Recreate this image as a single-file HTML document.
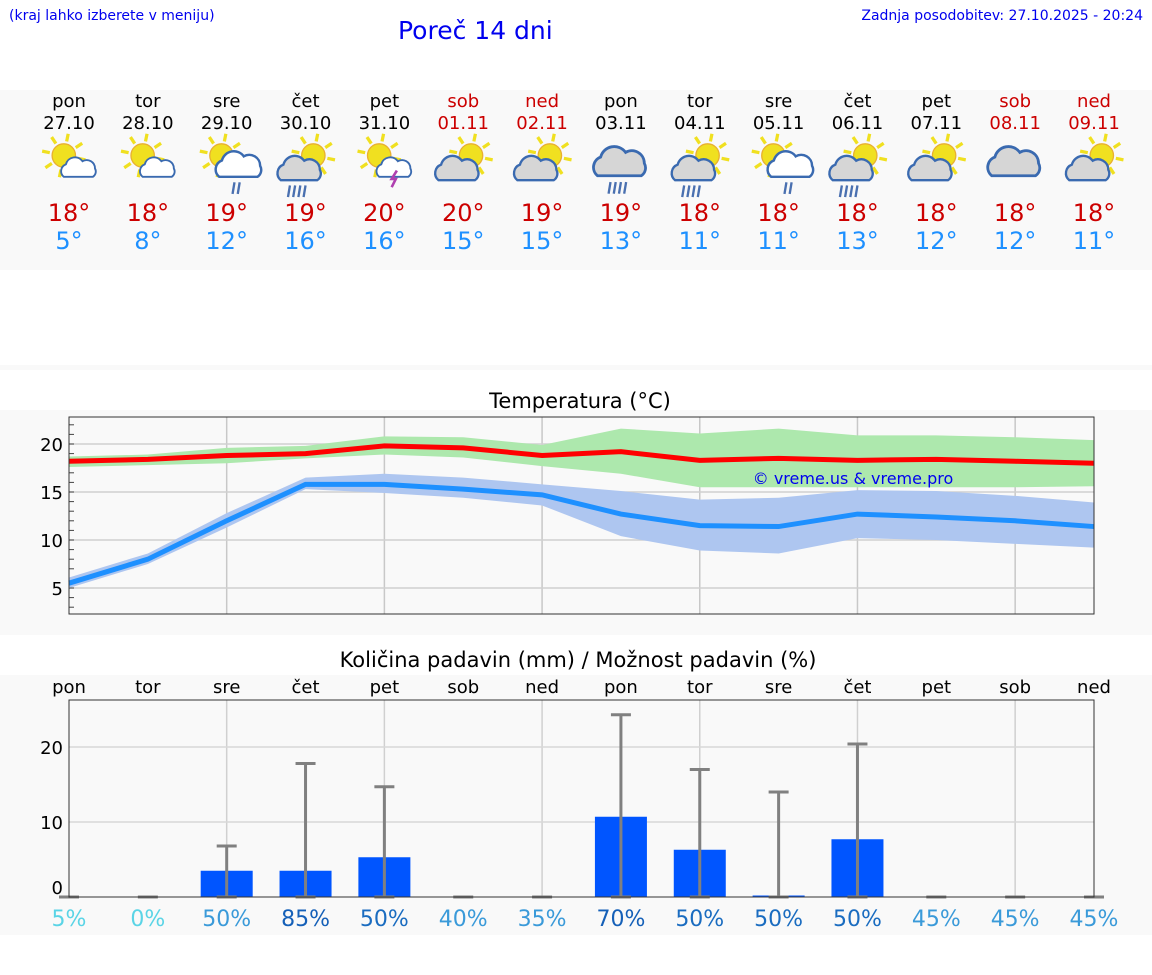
<!DOCTYPE html>
<html><head><meta charset="utf-8"><style>
body{margin:0;width:1152px;height:975px;background:#fff;font-family:"DejaVu Sans","Liberation Sans",sans-serif;overflow:hidden;position:relative}
.abs{position:absolute}
</style></head><body>
<div class="abs" style="left:9px;top:8px;font-size:14px;color:#0000ee">(kraj lahko izberete v meniju)</div>
<div class="abs" style="left:398px;top:16px;font-size:25px;color:#0000ee">Poreč 14 dni</div>
<div class="abs" style="right:9px;top:8px;font-size:14px;color:#0000ee">Zadnja posodobitev: 27.10.2025 - 20:24</div>
<svg id="s" width="1152" height="975" style="position:absolute;left:0;top:0"></svg>
<script>
const days=['pon','tor','sre','čet','pet','sob','ned','pon','tor','sre','čet','pet','sob','ned'];
const dates=['27.10','28.10','29.10','30.10','31.10','01.11','02.11','03.11','04.11','05.11','06.11','07.11','08.11','09.11'];
const weekend=[0,0,0,0,0,1,1,0,0,0,0,0,1,1];
const icons=['sc','sc','scr','csr','sct','cs','cs','cr','csr','scr','csr','cs','c','cs'];
const tMax=[18.2,18.4,18.8,19.0,19.8,19.6,18.8,19.2,18.3,18.5,18.3,18.4,18.2,18.0];
const tMaxHi=[18.7,18.9,19.6,19.8,20.8,20.7,19.9,21.6,21.1,21.6,20.9,20.9,20.7,20.4];
const tMaxLo=[17.6,17.8,18.0,18.5,18.9,18.6,17.7,16.9,15.5,15.5,15.5,15.5,15.5,15.6];
const tMin=[5.5,8.0,12.0,15.8,15.8,15.3,14.7,12.7,11.5,11.4,12.7,12.4,12.0,11.4];
const tMinHi=[6.1,8.6,12.8,16.5,16.9,16.5,15.8,15.1,14.2,14.4,15.2,15.1,14.6,13.9];
const tMinLo=[5.0,7.5,11.3,15.3,14.9,14.4,13.6,10.4,8.9,8.6,10.2,10.0,9.6,9.2];
const hiLabels=[18,18,19,19,20,20,19,19,18,18,18,18,18,18];
const loLabels=[5,8,12,16,16,15,15,13,11,11,13,12,12,11];
const precip=[0,0,3.5,3.5,5.3,0,0,10.7,6.3,0.2,7.7,0,0,0];
const precipMax=[0,0,6.8,17.8,14.7,0,0,24.3,17,14,20.4,0,0,0];
const prob=[5,0,50,85,50,40,35,70,50,50,50,45,45,45];
const probColor=['#5ad4e6','#5ad4e6','#3a9ad9','#1560b8','#1a6cc0','#3a9ad9','#3a9ad9','#1560b8','#1a6cc0','#1a6cc0','#1a6cc0','#3a9ad9','#3a9ad9','#3a9ad9'];
const tTicks=[5,10,15,20];
const pTicks=[0,10,20];

const S=document.getElementById('s');const NS='http://www.w3.org/2000/svg';
function el(t,a,p){const e=document.createElementNS(NS,t);for(const k in a)e.setAttribute(k,a[k]);(p||S).appendChild(e);return e;}
const X0=69,X1=1094;const xs=i=>X0+i*(X1-X0)/13;
const ty=v=>444+(20-v)*9.6;
const py=v=>897-v*7.5;
let b;
b=el('rect',{x:0,y:90,width:1152,height:180,fill:'#f9f9f9'});
b=el('rect',{x:0,y:365,width:1152,height:5,fill:'#f9f9f9'});
b=el('rect',{x:0,y:410,width:1152,height:225,fill:'#f9f9f9'});
b=el('rect',{x:0,y:675,width:1152,height:260,fill:'#f9f9f9'});
function txt(x,y,s,size,fill,anchor,name){const t=el('text',{x:x,y:y,'font-size':size,fill:fill,'text-anchor':anchor||'middle'});t.textContent=s;return t;}
function icon(cx,cy,k){const g0=el('g',{transform:`translate(${cx},${cy}) scale(1.3)`});
 const g=el('g',{},g0);
 const sun=k.indexOf('s')>=0;
 let sx=-4,sy=-5;
 if(k=='cs'||k=='csr'){sx=6;}
 if(sun){for(let a=0;a<8;a++){const r=a*Math.PI/4+0.2;el('line',{x1:sx+Math.cos(r)*11,y1:sy+Math.sin(r)*11,x2:sx+Math.cos(r)*17,y2:sy+Math.sin(r)*17,stroke:'#f0e020','stroke-width':2.5},g);}
  el('circle',{cx:sx,cy:sy,r:9,fill:'#f0e020',stroke:'#e8b030','stroke-width':1},g);}
 let ccx=8,ccy=5,sc=0.8,fill='#fff';
 if(k=='cs'||k=='csr'){ccx=-4;ccy=6;sc=1;fill='#d6d6d6';}
 if(k=='c'||k=='cr'){ccx=0;ccy=1;sc=1.2;fill='#d6d6d6';}
 if(k=='scr'){sc=1.05;ccx=10;ccy=3;}
 const cg=el('g',{transform:`translate(${ccx},${ccy}) scale(${sc})`},g);
 el('path',{d:'M-15,8 a7,7 0 0 1 2,-12 a9,9 0 0 1 16,-3 a8,8 0 0 1 12,7 a6,6 0 0 1 -2,8 z',fill:fill,stroke:'#3a6ab0','stroke-width':1.8},cg);
 if(k=='sct'){el('path',{d:'M2,2 l-5,8 h4 l-4,8',stroke:'#b040b0','stroke-width':2.5,fill:'none'},cg);}
 if(k.indexOf('r')>=0){const n=(k=='cr'||k=='csr')?4:2;for(let j=0;j<n;j++){const rx=ccx-4+j*4-(n>2?4:0),ry=ccy+12*sc;el('line',{x1:rx,y1:ry,x2:rx-1.5,y2:ry+9,stroke:'#4a70b0','stroke-width':1.8},g);}}
}
for(let i=0;i<14;i++){const x=xs(i);const c=weekend[i]?'#cc0000':'#000';
 txt(x,107,days[i],18,c,'middle','header-day');txt(x,129,dates[i],18,c,'middle','header-date');
 icon(x,162,icons[i]);
 txt(x,221,hiLabels[i]+'°',24,'#cc0000','middle','max-temp-label');txt(x,249,loLabels[i]+'°',24,'#1e90ff','middle','min-temp-label');}
txt(580,408,'Temperatura (°C)',21,'#000','middle','temp-chart-title');
const tp=el('rect',{x:X0,y:417,width:X1-X0,height:197,fill:'#f9f9f9',stroke:'none'});
for(let i=2;i<14;i+=2){const l=el('line',{x1:xs(i),y1:417,x2:xs(i),y2:614,stroke:'#c8c8c8','stroke-width':1.5});}
tTicks.forEach(v=>{const l=el('line',{x1:X0,y1:ty(v),x2:X1,y2:ty(v),stroke:'#d0d0d0','stroke-width':1.5});
 txt(63,ty(v)+7,String(v),18,'#000','end','temp-y-tick');});
for(let v=3;v<=22;v++){const l=el('line',{x1:X0,y1:ty(v),x2:X0+5,y2:ty(v),stroke:'#444'});}
function band(hi,lo,fill,name){let d='';hi.forEach((v,i)=>d+=(i?'L':'M')+xs(i)+','+ty(v));for(let i=lo.length-1;i>=0;i--)d+='L'+xs(i)+','+ty(lo[i]);const p=el('path',{d:d+'Z',fill:fill});}
function line(v,stroke,name){const p=el('polyline',{points:v.map((y,i)=>xs(i)+','+ty(y)).join(' '),fill:'none',stroke:stroke,'stroke-width':5});}
band(tMaxHi,tMaxLo,'#ade8ad','max-temp-range');band(tMinHi,tMinLo,'#aec6f0','min-temp-range');
line(tMax,'#ff0000','max-temp-line');line(tMin,'#1e90ff','min-temp-line');
txt(853,484,'© vreme.us & vreme.pro',16,'#0000ee','middle','watermark');
const tb=el('rect',{x:X0,y:417,width:X1-X0,height:197,fill:'none',stroke:'#333'});
txt(578,667,'Količina padavin (mm) / Možnost padavin (%)',21,'#000','middle','precip-chart-title');
for(let i=0;i<14;i++)txt(xs(i),693,days[i],18,'#000','middle','precip-day-label');
for(let i=2;i<14;i+=2){const l=el('line',{x1:xs(i),y1:700,x2:xs(i),y2:897,stroke:'#d0d0d0','stroke-width':1.5});}
pTicks.forEach(v=>{if(v>0){const l=el('line',{x1:X0,y1:py(v),x2:X1,y2:py(v),stroke:'#d8d8d8','stroke-width':1.5});}
 txt(63,py(v)+(v?7:-3),String(v),18,'#000','end','precip-y-tick');});
for(let i=0;i<14;i++){const x=xs(i);
 if(precip[i]>0){const r=el('rect',{x:x-26,y:py(precip[i]),width:52,height:py(0)-py(precip[i]),fill:'#0055ff'});}
 const top=py(precipMax[i]);
 const e=el('line',{x1:x,y1:top,x2:x,y2:py(0),stroke:'#808080','stroke-width':3});
 const c=el('line',{x1:x-10,y1:top,x2:x+10,y2:top,stroke:'#808080','stroke-width':3});
 if(precipMax[i]>0){const c2=el('line',{x1:x-10,y1:py(0),x2:x+10,y2:py(0),stroke:'#808080','stroke-width':3});}
 txt(x,926,prob[i]+'%',22,probColor[i],'middle','precip-probability');}
const pf=el('path',{d:`M${X0},700 H${X1} V897 H${X0} Z`,fill:'none',stroke:'#333'});
</script>
</body></html>
